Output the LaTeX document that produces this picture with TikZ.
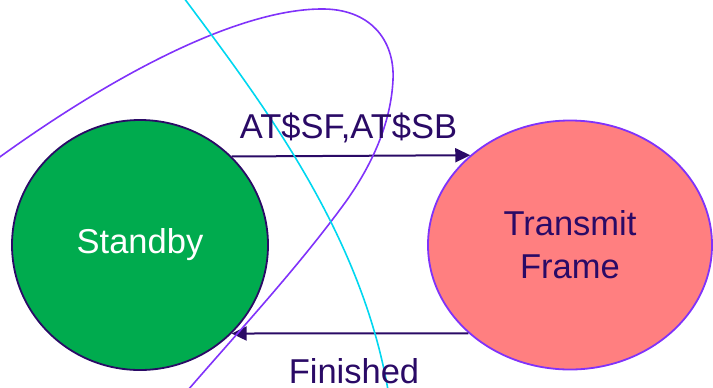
\documentclass[tikz,border=0pt]{standalone}
\usepackage{fontspec}
\setmainfont{Liberation Sans}
\usetikzlibrary{shapes.geometric,arrows.meta}
\definecolor{ink}{RGB}{42,10,102}
\definecolor{sgreen}{RGB}{0,171,78}
\definecolor{spink}{RGB}{255,127,128}
\definecolor{vio}{RGB}{128,50,250}
\definecolor{cyn}{RGB}{0,215,240}
\tikzset{
  state/.style={ellipse, inner sep=0pt, align=center,
    font=\fontsize{34.5bp}{43bp}\selectfont},
  trans/.style={draw=ink, line width=2bp, -{Triangle[length=15bp,width=14bp]}},
  lbl/.style={text=ink, inner sep=0pt, anchor=base,
    font=\fontsize{34.5bp}{43bp}\selectfont},
  curve/.style={line width=1.6bp}
}
\begin{document}
\begin{tikzpicture}[x=1bp,y=-1bp]
\useasboundingbox (0,0) rectangle (713,387);
\node[state, fill=sgreen, draw=ink, line width=1.8bp, text=white,
  minimum width=256bp, minimum height=250bp] (s) at (140,245) {Standby};
\node[state, fill=spink, draw=vio, line width=1.8bp, text=ink,
  minimum width=284bp, minimum height=249bp] (t) at (570,245) {Transmit\\Frame};
\draw[trans] (s.44.2) -- (t.138.9);
\draw[trans] (t.221.1) -- (s.-44.2);
\coordinate (p0) at (-3,159);
\coordinate (p1) at (320,9);
\coordinate (p2) at (393,80);
\coordinate (p3) at (347,200);
\coordinate (p4) at (188,390);
\draw[curve, draw=vio] (p0) .. controls (120,70) and (240,10) .. (p1)
  .. controls (370,8) and (395,40) .. (p2)
  .. controls (391,120) and (375,160) .. (p3)
  .. controls (300,265) and (240,330) .. (p4);
\coordinate (c0) at (184,-2);
\coordinate (c1) at (388,390);
\draw[curve, draw=cyn] (c0) .. controls (260,100) and (360,230) .. (c1);
\node[lbl] (l1) at (348.5,138) {AT\$SF,AT\$SB};
\node[lbl] (l2) at (354,383) {Finished};
\end{tikzpicture}
\end{document}
